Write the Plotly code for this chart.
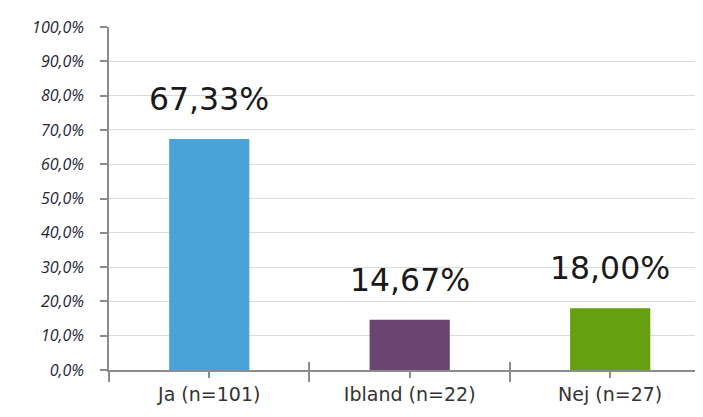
import plotly.graph_objects as go

categories = ["Ja (n=101)", "Ibland (n=22)", "Nej (n=27)"]
values = [67.33, 14.67, 18.00]
colors = ["#4AA3D8", "#6C4473", "#64A010"]
y_ticks = list(range(0, 101, 10))

x_pos = list(range(len(categories)))
fmt = lambda v, d: f"{v:.{d}f}".replace(".", ",") + "%"

fig = go.Figure()
fig.add_trace(go.Bar(x=x_pos, y=values, marker=dict(color=colors, line=dict(width=0)),
                     width=0.4, hoverinfo="skip"))
# invisible helper trace so the overlay axis (crossing boundary ticks) is drawn
fig.add_trace(go.Scatter(x=x_pos, y=values, xaxis="x2", mode="markers",
                         marker=dict(opacity=0), hoverinfo="skip"))

for xp, v in zip(x_pos, values):
    fig.add_annotation(x=xp, y=v, text=fmt(v, 2), showarrow=False, yanchor="bottom",
                       yshift=20, font=dict(family="DejaVu Sans", size=31.5, color="#1a1a1a"))

xrange = [-0.5, 2.463]
fig.update_layout(
    width=695, height=409,
    margin=dict(l=101, r=0, t=19, b=47),
    paper_bgcolor="white", plot_bgcolor="white",
    showlegend=False,
    xaxis=dict(range=xrange, tickvals=x_pos, ticktext=categories, automargin=False,
               ticks="outside", ticklen=6, tickcolor="#8c8c8c", tickwidth=1.5,
               showline=True, linecolor="#8c8c8c", linewidth=1.5,
               showgrid=False, zeroline=False,
               tickfont=dict(family="DejaVu Sans", size=19, color="#333333"),
               minor=dict(tick0=0.5, dtick=1, ticks="outside", ticklen=10,
                          tickcolor="#8c8c8c", tickwidth=1.5, showgrid=False)),
    xaxis2=dict(range=xrange, overlaying="x", anchor="y", side="bottom", automargin=False,
                tickvals=[-0.5 + i for i in range(len(categories) + 1)],
                ticks="inside", ticklen=8, tickcolor="#8c8c8c", tickwidth=1.5,
                showticklabels=False, showgrid=False, zeroline=False, showline=False),
    yaxis=dict(range=[0, 100], tickvals=y_ticks, ticktext=[fmt(t, 1) for t in y_ticks],
               automargin=False,
               ticks="outside", ticklen=7, tickcolor="#8c8c8c", tickwidth=1.5,
               showline=True, linecolor="#8c8c8c", linewidth=1.5,
               showgrid=True, gridcolor="#dcdcdc", gridwidth=1, zeroline=False,
               tickfont=dict(family="Open Sans", size=16, color="#1f1f3a",
                             style="italic"),
               ticklabelstandoff=13),
)

fig.write_html("out.html")
